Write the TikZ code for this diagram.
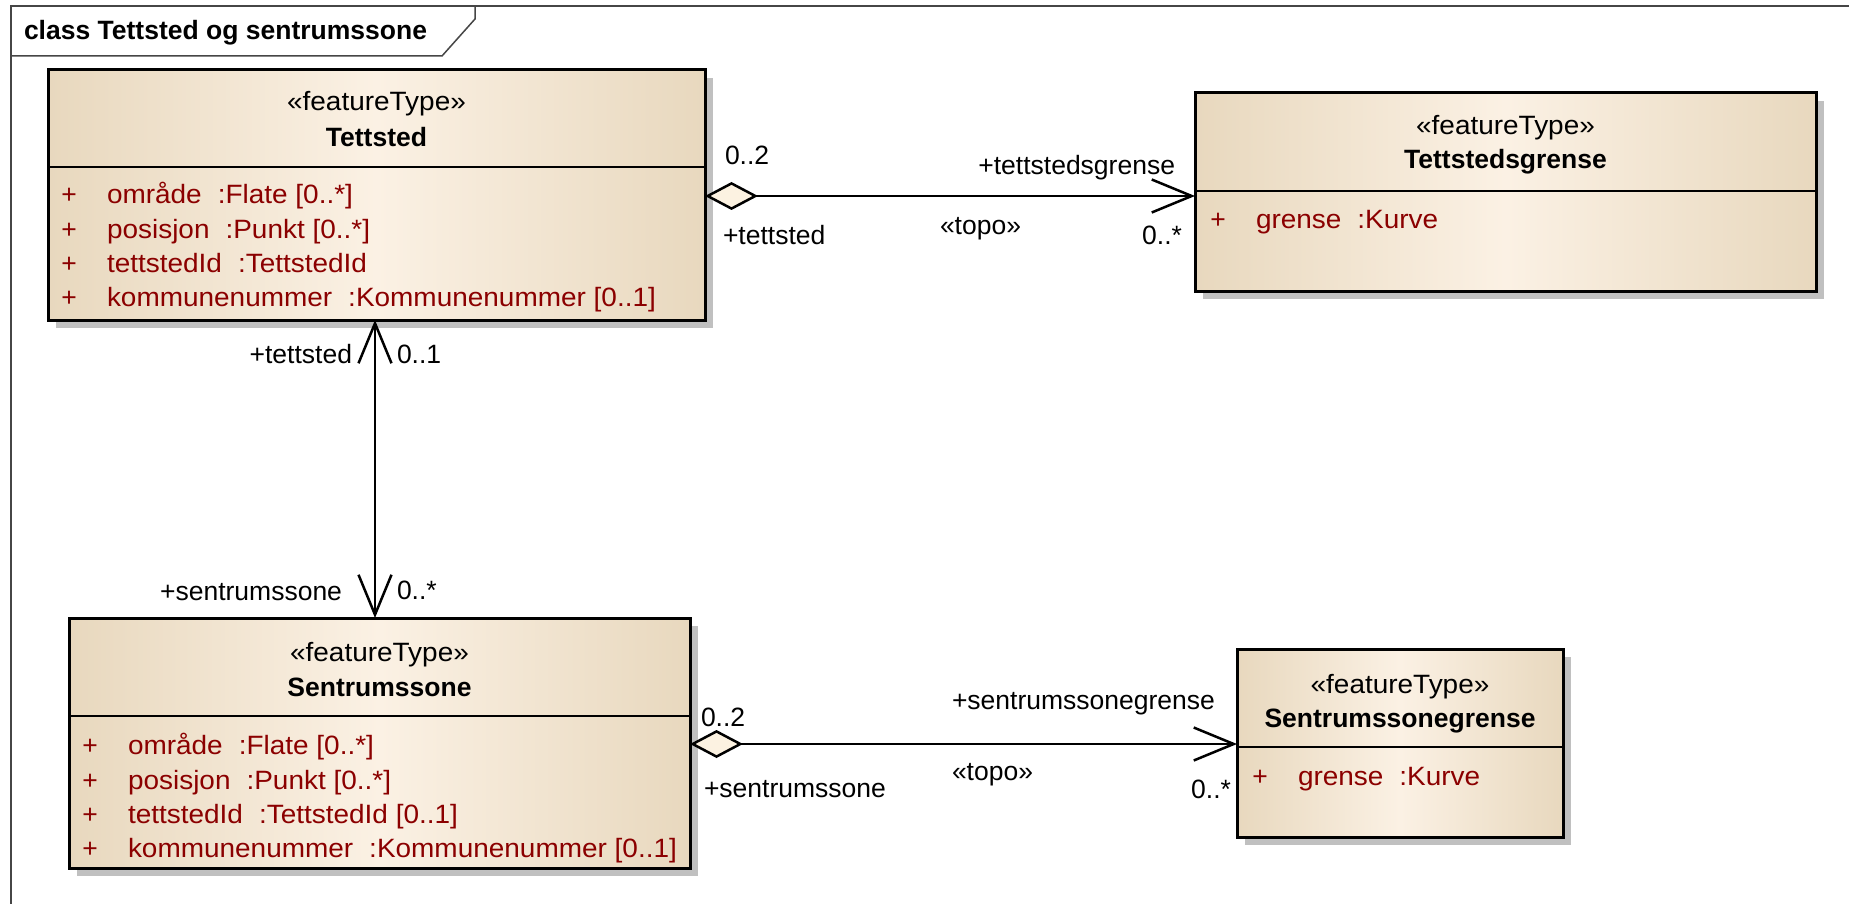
\documentclass[tikz,border=0pt]{standalone}
\usepackage{fontspec}
\setmainfont{Liberation Sans}
\newfontfamily\attrfont[FakeStretch=1.055]{Liberation Sans}
\newfontfamily\stereofont[FakeStretch=1.055]{Liberation Sans}
\usetikzlibrary{arrows.meta,shadows,calc}
\definecolor{tanedge}{RGB}{232,216,190}
\definecolor{tancenter}{RGB}{251,241,228}
\definecolor{attrred}{RGB}{139,0,0}
\definecolor{shadowgray}{RGB}{192,192,192}
\definecolor{diafill}{RGB}{252,242,225}
\definecolor{framegray}{RGB}{70,70,70}
\begin{document}
\begin{tikzpicture}[x=1pt,y=-1pt,
  every node/.style={inner sep=0pt, outer sep=0pt, font=\fontsize{26.5}{32}\selectfont},
  classbox/.style={draw=black, line width=3pt, left color=tanedge, right color=tanedge, middle color=tancenter,
    anchor=north west, drop shadow={shadow xshift=8pt, shadow yshift=-8pt, fill=shadowgray, opacity=1}},
  sepline/.style={line width=2.5pt, draw=black},
  stereo/.style={anchor=base, font=\stereofont\fontsize{26.5}{32}\selectfont},
  cname/.style={anchor=base, font=\fontsize{26.5}{32}\selectfont\bfseries},
  attr/.style={anchor=base west, text=attrred, font=\attrfont\fontsize{26.5}{32}\selectfont},
  plus/.style={anchor=base, text=attrred},
  lbl/.style={anchor=base west},
  lblr/.style={anchor=base east},
  framestyle/.style={draw=framegray, line width=1.5pt},
  assoc/.style={draw=black, line width=2.5pt},
  agg/.style={assoc, {Diamond[length=53pt,width=28pt,fill=diafill,line width=2.5pt]}-{Straight Barb[length=40pt,width=33pt,line width=2.5pt]}},
  nav/.style={assoc, {Straight Barb[length=40pt,width=33pt,line width=2.5pt]}-{Straight Barb[length=40pt,width=33pt,line width=2.5pt]}}
]
\useasboundingbox (0,0) rectangle (1849,904);
\fill[white] (0,0) rectangle (1849,904);

% frame
\draw[framestyle] (11,904) -- (11,6) -- (1849,6);
\draw[framestyle] (11,56) -- (442,56) -- (475,19) -- (475,6);
\node[anchor=base west, font=\fontsize{26.5}{32}\selectfont\bfseries] (title) at (24,40) {class Tettsted og sentrumssone};

% Tettsted
\node[classbox, minimum width=657pt, minimum height=250pt] (tett) at (48,70) {};
\draw[sepline] (tett.west |- 0,167) -- (tett.east |- 0,167);
\node[stereo] (tett-st) at (376.5,111) {«featureType»};
\node[cname] (tett-nm) at (376.5,147) {Tettsted};
\node[plus] (tett-p1) at (69,204) {+};
\node[attr] (tett-a1) at (107,204) {område\hspace{16pt}:Flate [0..*]};
\node[plus] (tett-p2) at (69,238) {+};
\node[attr] (tett-a2) at (107,238) {posisjon\hspace{16pt}:Punkt [0..*]};
\node[plus] (tett-p3) at (69,272) {+};
\node[attr] (tett-a3) at (107,272) {tettstedId\hspace{16pt}:TettstedId};
\node[plus] (tett-p4) at (69,306) {+};
\node[attr] (tett-a4) at (107,306) {kommunenummer\hspace{16pt}:Kommunenummer [0..1]};

% Tettstedsgrense
\node[classbox, minimum width=621pt, minimum height=198pt] (tsg) at (1195,93) {};
\draw[sepline] (tsg.west |- 0,191) -- (tsg.east |- 0,191);
\node[stereo] (tsg-st) at (1505.5,135) {«featureType»};
\node[cname] (tsg-nm) at (1505.5,169) {Tettstedsgrense};
\node[plus] (tsg-p1) at (1218,228) {+};
\node[attr] (tsg-a1) at (1256,228) {grense\hspace{16pt}:Kurve};

% Sentrumssone
\node[classbox, minimum width=621pt, minimum height=250pt] (sen) at (69,618) {};
\draw[sepline] (sen.west |- 0,716) -- (sen.east |- 0,716);
\node[stereo] (sen-st) at (379.5,661) {«featureType»};
\node[cname] (sen-nm) at (379.5,696) {Sentrumssone};
\node[plus] (sen-p1) at (90,754) {+};
\node[attr] (sen-a1) at (128,754) {område\hspace{16pt}:Flate [0..*]};
\node[plus] (sen-p2) at (90,789) {+};
\node[attr] (sen-a2) at (128,789) {posisjon\hspace{16pt}:Punkt [0..*]};
\node[plus] (sen-p3) at (90,823) {+};
\node[attr] (sen-a3) at (128,823) {tettstedId\hspace{16pt}:TettstedId [0..1]};
\node[plus] (sen-p4) at (90,857) {+};
\node[attr] (sen-a4) at (128,857) {kommunenummer\hspace{16pt}:Kommunenummer [0..1]};

% Sentrumssonegrense
\node[classbox, minimum width=326pt, minimum height=188pt] (ssg) at (1237,649) {};
\draw[sepline] (ssg.west |- 0,747) -- (ssg.east |- 0,747);
\node[stereo] (ssg-st) at (1400,693) {«featureType»};
\node[cname] (ssg-nm) at (1400,727) {Sentrumssonegrense};
\node[plus] (ssg-p1) at (1260,785) {+};
\node[attr] (ssg-a1) at (1298,785) {grense\hspace{16pt}:Kurve};

% connector anchor points
\coordinate (c1s) at (tett.east |- 0,196);
\coordinate (c1e) at (tsg.west |- 0,196);
\coordinate (c2s) at (tett.south -| 375,0);
\coordinate (c2e) at (sen.north -| 375,0);
\coordinate (c3s) at (sen.east |- 0,744);
\coordinate (c3e) at (ssg.west |- 0,744);

\draw[agg] (c1s) -- (c1e);
\draw[nav] (c2s) -- (c2e);
\draw[agg] (c3s) -- (c3e);

% labels connector 1
\node[lbl] (l1a) at (725,165) {0..2};
\node[lbl] (l1b) at (723,244) {+tettsted};
\node[lblr] (l1c) at (1175,175) {+tettstedsgrense};
\node[lbl] (l1d) at (940,234) {«topo»};
\node[lblr] (l1e) at (1182,244) {0..*};

% labels connector 2
\node[lblr] (l2a) at (352,363) {+tettsted};
\node[lbl] (l2b) at (397,363) {0..1};
\node[lblr] (l2c) at (342,600) {+sentrumssone};
\node[lbl] (l2d) at (397,599) {0..*};

% labels connector 3
\node[lbl] (l3a) at (701,726) {0..2};
\node[lbl] (l3b) at (704,797) {+sentrumssone};
\node[lbl] (l3c) at (952,709) {+sentrumssonegrense};
\node[lbl] (l3d) at (952,780) {«topo»};
\node[lblr] (l3e) at (1231,798) {0..*};
\end{tikzpicture}
\end{document}
